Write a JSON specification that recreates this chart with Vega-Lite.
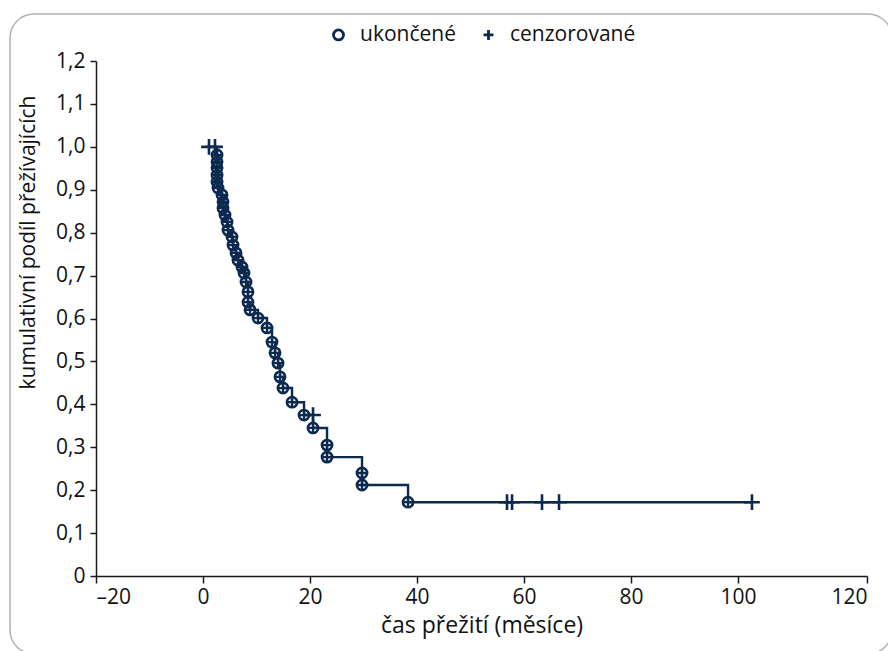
{
  "$schema": "https://vega.github.io/schema/vega-lite/v6.json",
  "width": 882,
  "height": 640,
  "padding": {"left": 10, "top": 14, "right": 0, "bottom": 0},
  "autosize": {"type": "none"},
  "background": "white",
  "config": {
    "view": {"stroke": "#b3b3b3", "strokeWidth": 1.5, "cornerRadius": 24},
    "font": "Open Sans"
  },
  "data": {
    "values": [
      {"i": 0, "t": 1.12, "s": 1.0, "type": "cenzorované"},
      {"i": 1, "t": 2.24, "s": 1.0, "type": "cenzorované"},
      {"i": 2, "t": 2.62, "s": 0.981, "type": "ukončené"},
      {"i": 3, "t": 2.62, "s": 0.965, "type": "ukončené"},
      {"i": 4, "t": 2.62, "s": 0.951, "type": "ukončené"},
      {"i": 5, "t": 2.62, "s": 0.934, "type": "ukončené"},
      {"i": 6, "t": 2.62, "s": 0.918, "type": "ukončené"},
      {"i": 7, "t": 2.8, "s": 0.904, "type": "ukončené"},
      {"i": 8, "t": 3.55, "s": 0.888, "type": "ukončené"},
      {"i": 9, "t": 3.74, "s": 0.872, "type": "ukončené"},
      {"i": 10, "t": 3.74, "s": 0.857, "type": "ukončené"},
      {"i": 11, "t": 4.11, "s": 0.841, "type": "ukončené"},
      {"i": 12, "t": 4.49, "s": 0.825, "type": "ukončené"},
      {"i": 13, "t": 4.67, "s": 0.806, "type": "ukončené"},
      {"i": 14, "t": 5.42, "s": 0.79, "type": "ukončené"},
      {"i": 15, "t": 5.61, "s": 0.771, "type": "ukončené"},
      {"i": 16, "t": 6.17, "s": 0.753, "type": "ukončené"},
      {"i": 17, "t": 6.54, "s": 0.736, "type": "ukončené"},
      {"i": 18, "t": 7.29, "s": 0.72, "type": "ukončené"},
      {"i": 19, "t": 7.66, "s": 0.706, "type": "ukončené"},
      {"i": 20, "t": 8.04, "s": 0.685, "type": "ukončené"},
      {"i": 21, "t": 8.41, "s": 0.662, "type": "ukončené"},
      {"i": 22, "t": 8.41, "s": 0.638, "type": "ukončené"},
      {"i": 23, "t": 8.79, "s": 0.62, "type": "ukončené"},
      {"i": 24, "t": 10.28, "s": 0.601, "type": "ukončené"},
      {"i": 25, "t": 11.96, "s": 0.578, "type": "ukončené"},
      {"i": 26, "t": 12.9, "s": 0.545, "type": "ukončené"},
      {"i": 27, "t": 13.46, "s": 0.52, "type": "ukončené"},
      {"i": 28, "t": 14.02, "s": 0.496, "type": "ukončené"},
      {"i": 29, "t": 14.39, "s": 0.464, "type": "ukončené"},
      {"i": 30, "t": 14.95, "s": 0.438, "type": "ukončené"},
      {"i": 31, "t": 16.64, "s": 0.405, "type": "ukončené"},
      {"i": 32, "t": 18.88, "s": 0.375, "type": "ukončené"},
      {"i": 33, "t": 20.56, "s": 0.375, "type": "cenzorované"},
      {"i": 34, "t": 20.56, "s": 0.345, "type": "ukončené"},
      {"i": 35, "t": 23.18, "s": 0.305, "type": "ukončené"},
      {"i": 36, "t": 23.18, "s": 0.277, "type": "ukončené"},
      {"i": 37, "t": 29.72, "s": 0.24, "type": "ukončené"},
      {"i": 38, "t": 29.72, "s": 0.212, "type": "ukončené"},
      {"i": 39, "t": 38.32, "s": 0.172, "type": "ukončené"},
      {"i": 40, "t": 56.82, "s": 0.172, "type": "cenzorované"},
      {"i": 41, "t": 57.76, "s": 0.172, "type": "cenzorované"},
      {"i": 42, "t": 63.36, "s": 0.172, "type": "cenzorované"},
      {"i": 43, "t": 66.54, "s": 0.172, "type": "cenzorované"},
      {"i": 44, "t": 102.6, "s": 0.172, "type": "cenzorované"}
    ]
  },
  "encoding": {
    "x": {
      "field": "t",
      "type": "quantitative",
      "scale": {"domain": [-20, 124.1], "range": [86, 857], "nice": false, "zero": false},
      "axis": {
        "values": [-20, 0, 20, 40, 60, 80, 100, 124.1],
        "offset": -78,
        "grid": false,
        "domainColor": "#1a1a1a",
        "domainWidth": 1.5,
        "tickColor": "#1a1a1a",
        "tickWidth": 1.5,
        "tickSize": 7,
        "labelFontSize": 21,
        "labelColor": "#111111",
        "labelPadding": 3,
        "labelExpr": "datum.value < 0 ? '–' + abs(datum.value) : (datum.value > 110 ? '120' : '' + datum.value)",
        "title": "čas přežití (měsíce)",
        "titleFontSize": 23,
        "titleFontWeight": "normal",
        "titleColor": "#111111",
        "titlePadding": 7
      }
    },
    "y": {
      "field": "s",
      "type": "quantitative",
      "scale": {"domain": [0, 1.2], "range": [562, 47], "nice": false, "zero": false},
      "axis": {
        "values": [0, 0.1, 0.2, 0.3, 0.4, 0.5, 0.6, 0.7, 0.8, 0.9, 1.0, 1.1, 1.2],
        "offset": -86,
        "grid": false,
        "domainColor": "#1a1a1a",
        "domainWidth": 1.5,
        "tickColor": "#1a1a1a",
        "tickWidth": 1.5,
        "tickSize": 6,
        "labelFontSize": 21,
        "labelColor": "#111111",
        "labelPadding": 5,
        "labelExpr": "datum.value == 0 ? '0' : replace(format(datum.value, '.1f'), '.', ',')",
        "title": "kumulativní podíl přežívajících",
        "titleFontSize": 21,
        "titleFontWeight": "normal",
        "titleColor": "#111111",
        "titleX": -58,
        "titleY": 228
      }
    }
  },
  "layer": [
    {
      "mark": {"type": "line", "interpolate": "step-after", "color": "#0c2a50", "strokeWidth": 2.4},
      "encoding": {"order": {"field": "i", "type": "quantitative"}}
    },
    {
      "mark": {"type": "point", "filled": false, "strokeWidth": 2.6, "color": "#0c2a50", "opacity": 1},
      "encoding": {
        "shape": {
          "field": "type",
          "type": "nominal",
          "scale": {"domain": ["ukončené", "cenzorované"], "range": ["circle", "M-1,0H1M0,-1V1"]},
          "legend": {
            "title": null,
            "orient": "none",
            "direction": "horizontal",
            "legendX": 318,
            "legendY": 10,
            "labelFontSize": 21,
            "labelColor": "#111111",
            "labelOffset": 11,
            "columnPadding": 21,
            "symbolStrokeWidth": 2.8,
            "symbolStrokeColor": "#0c2a50",
            "symbolFillColor": "transparent",
            "encode": {
              "symbols": {"update": {"size": {"signal": "datum.value === 'ukončené' ? 60 : 220"}}}
            }
          }
        },
        "size": {"condition": {"test": "datum.type === 'ukončené'", "value": 105}, "value": 250}
      }
    },
    {
      "transform": [{"filter": "datum.type === 'ukončené'"}],
      "mark": {"type": "point", "filled": false, "shape": "M-1,0H1M0,-1V1", "size": 130, "strokeWidth": 2.3, "color": "#0c2a50", "opacity": 1}
    }
  ]
}
